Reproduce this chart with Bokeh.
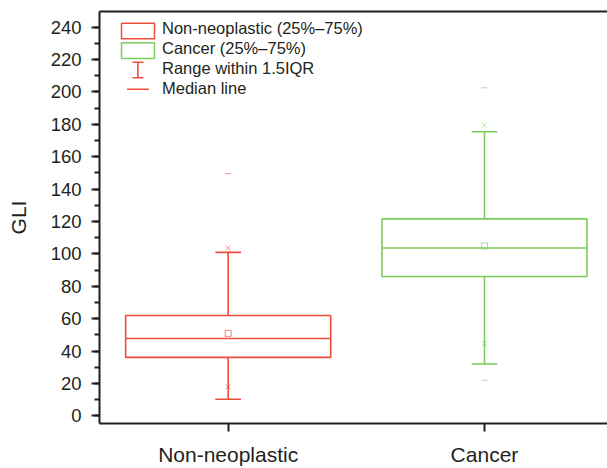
from bokeh.plotting import figure
from bokeh.models import (Range1d, FixedTicker, SingleIntervalTicker, LinearAxis,
                          BoxAnnotation, Label)
from bokeh.embed import file_html
from bokeh.resources import INLINE

# ---- data ----
categories = ["Non-neoplastic", "Cancer"]
colors = ["#ef4d3d", "#7ccd5c"]
q1 = [36.1, 86.0]
median = [47.8, 103.6]
q3 = [62.0, 121.6]
whisker_low = [10.3, 32.0]
whisker_high = [100.9, 175.4]
mean = [50.9, 104.8]
p1 = [18.0, 44.7]
p99 = [103.6, 179.5]
min_val = [10.3, 22.0]
max_val = [149.5, 202.5]
y_ticks_interval = 20
legend_labels = ["Non-neoplastic (25%\u201375%)", "Cancer (25%\u201375%)",
                 "Range within 1.5IQR", "Median line"]

FONT = "Liberation Sans"
TXT = "#231f20"

pos = [i + 1 for i in range(len(categories))]
half = 0.4
cap = 0.05

p = figure(width=607, height=468, x_range=Range1d(0.498, 2.48), y_range=Range1d(-4.7, 249.6),
           output_backend="svg", toolbar_location=None,
           min_border_left=99, min_border_right=0, min_border_top=11, min_border_bottom=45)
p.outline_line_color = None
p.xgrid.visible = False
p.ygrid.visible = False
p.background_fill_color = "white"
p.border_fill_color = "white"

# y axis
ya = p.yaxis[0]
ya.ticker = SingleIntervalTicker(interval=y_ticks_interval, num_minor_ticks=2)
ya.axis_label = "GLI"
ya.axis_label_text_font = FONT
ya.axis_label_text_font_size = "21px"
ya.axis_label_text_font_style = "normal"
ya.axis_label_text_color = TXT
ya.axis_label_standoff = 18
ya.major_label_text_font = FONT
ya.major_label_text_font_size = "18.5px"
ya.major_label_text_color = TXT
ya.major_label_standoff = 10
ya.axis_line_width = 2
ya.axis_line_color = TXT
ya.major_tick_line_width = 2
ya.major_tick_line_color = TXT
ya.minor_tick_line_width = 2
ya.minor_tick_line_color = TXT
ya.major_tick_in = 0
ya.major_tick_out = 8
ya.minor_tick_in = 0
ya.minor_tick_out = 5

# x axis
xa = p.xaxis[0]
xa.ticker = FixedTicker(ticks=pos)
xa.major_label_overrides = {x: c for x, c in zip(pos, categories)}
xa.major_label_text_font = FONT
xa.major_label_text_font_size = "21px"
xa.major_label_text_color = TXT
xa.major_label_standoff = 11
xa.axis_line_width = 2
xa.axis_line_color = TXT
xa.major_tick_line_width = 2
xa.major_tick_line_color = TXT
xa.major_tick_in = 0
xa.major_tick_out = 8
xa.minor_tick_line_color = None

# top border line
top = LinearAxis(ticker=FixedTicker(ticks=[]), major_label_text_font_size="0px",
                 axis_line_width=2, axis_line_color=TXT, major_tick_out=0, major_tick_in=0,
                 minor_tick_out=0, minor_tick_in=0, major_label_standoff=0)
p.add_layout(top, "above")

# ---- boxes ----
for x, c, a, m, b, lo, hi, mn, lp, hp, vmin, vmax in zip(pos, colors, q1, median, q3, whisker_low,
                                                       whisker_high, mean, p1, p99, min_val, max_val):
    p.quad(left=[x - half], right=[x + half], bottom=[a], top=[b],
           fill_color=None, line_color=c, line_width=1.6)
    p.segment(x0=[x - half], x1=[x + half], y0=[m], y1=[m], line_color=c, line_width=1.6)
    p.segment(x0=[x, x], x1=[x, x], y0=[b, a], y1=[hi, lo], line_color=c, line_width=1.6)
    p.segment(x0=[x - cap, x - cap], x1=[x + cap, x + cap], y0=[hi, lo], y1=[hi, lo],
              line_color=c, line_width=1.6)
    p.scatter(x=[x], y=[mn], marker="square", size=6, fill_color=None, line_color=c,
              line_alpha=0.7, line_width=1)
    p.scatter(x=[x, x], y=[lp, hp], marker="x", size=7, line_color=c, line_alpha=0.6, line_width=1)
    p.scatter(x=[x, x], y=[vmin, vmax], marker="dash", size=6, line_color=c, line_alpha=0.6,
              line_width=1)

# ---- legend (screen units relative to frame: x from left, y from bottom) ----
FB = 412  # frame height


def sy(canvas_y):
    return FB - (canvas_y - 11)


def sx(canvas_x):
    return canvas_x - 99


for i, c in enumerate(colors):
    y0 = 22.7 + i * 19.6
    p.add_layout(BoxAnnotation(left=sx(121), right=sx(154), top=sy(y0), bottom=sy(y0 + 15.6),
                               left_units="screen", right_units="screen", top_units="screen",
                               bottom_units="screen", fill_color=None, fill_alpha=0,
                               line_color=c, line_alpha=1, line_width=1.5))

red = colors[0]


def thin(l, r, t, b):
    p.add_layout(BoxAnnotation(left=sx(l), right=sx(r), top=sy(t), bottom=sy(b),
                               left_units="screen", right_units="screen", top_units="screen",
                               bottom_units="screen", fill_color=red, fill_alpha=1,
                               line_color=None))


thin(136.6, 138.2, 61.2, 77.6)   # stem
thin(132, 143, 61.0, 62.6)       # top cap
thin(132, 143, 76.4, 78.0)       # bottom cap
thin(126.5, 148.5, 88.0, 89.6)   # median line icon

for i, t in enumerate(legend_labels):
    p.add_layout(Label(x=sx(161.5), y=sy(27.6 + i * 20.0), x_units="screen", y_units="screen",
                       text=t, text_font=FONT, text_font_size="16.5px", text_color=TXT,
                       text_baseline="middle", text_align="left"))

open("out.html", "w").write(file_html(p, INLINE))
